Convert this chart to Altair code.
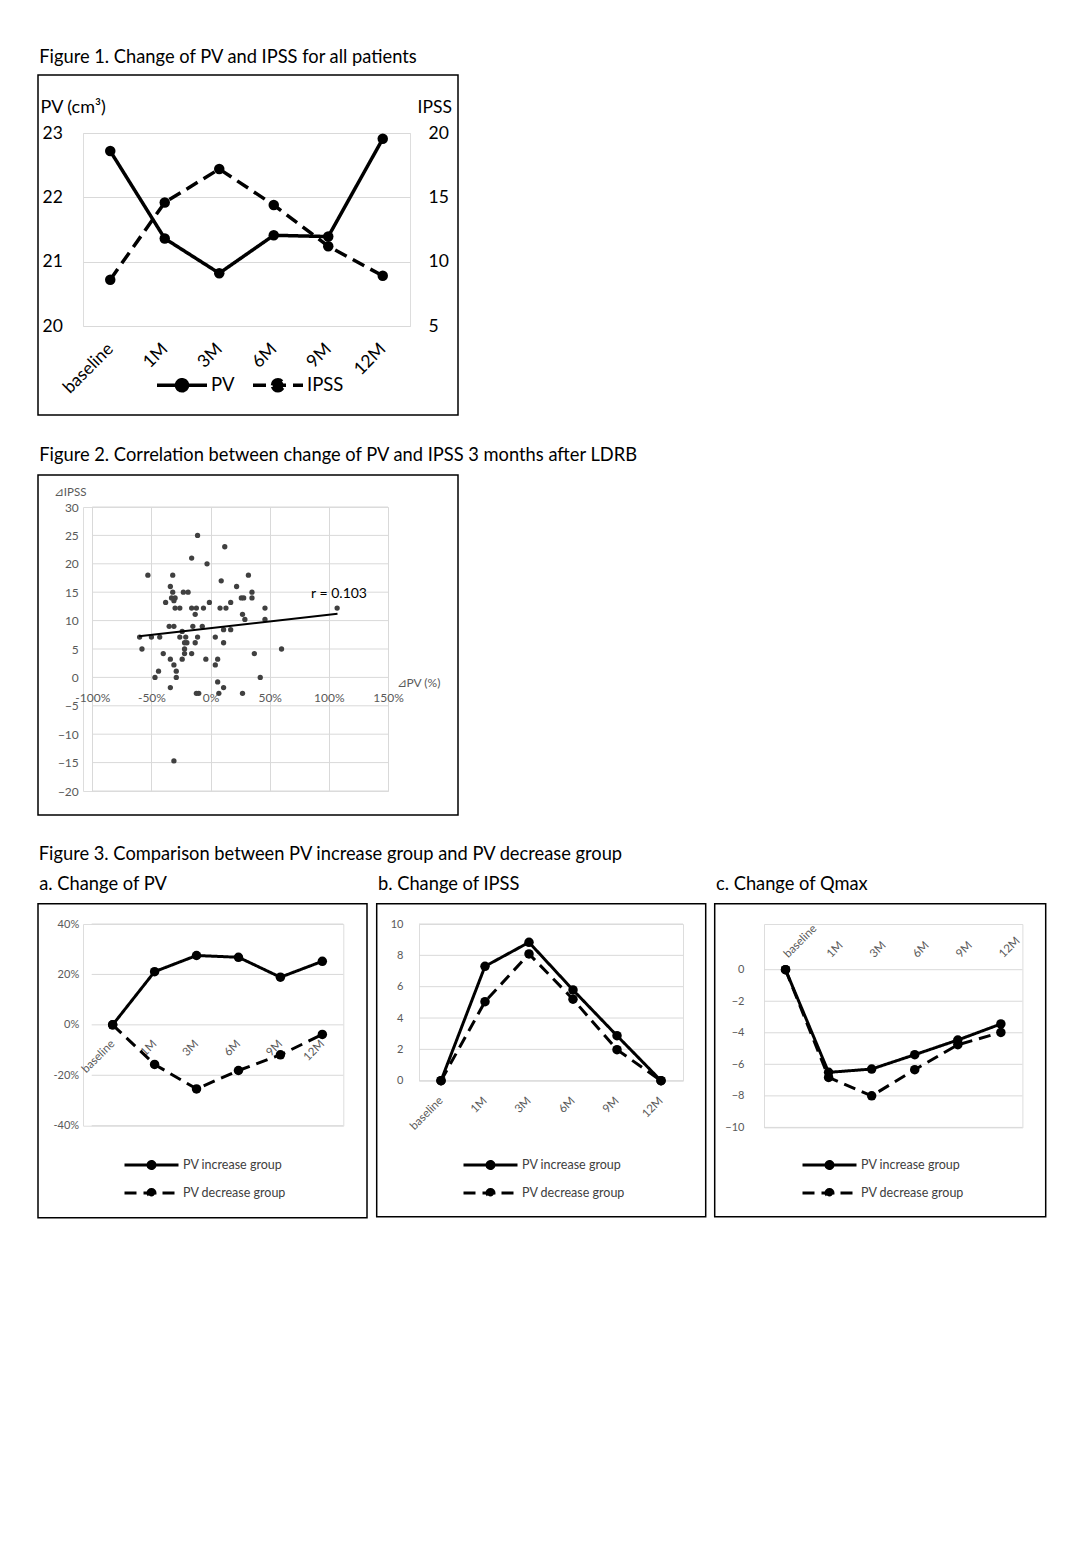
import altair as alt
import pandas as pd

FONT = "Lato"
GRID = "#d9d9d9"
LABEL_GRAY = "#595959"

# ---------------- data ----------------
months = ["baseline", "1M", "3M", "6M", "9M", "12M"]

# Figure 1
pv_all = [22.72, 21.36, 20.82, 21.41, 21.39, 22.91]
ipss_all = [8.6, 14.6, 17.2, 14.4, 11.2, 8.9]

# Figure 2 (change of PV in %, change of IPSS)
dpv = [-11, 12, -16, -3,
       -53, -32, 32,
       9,
       -34, 22,
       -32, -23, -19, 35,
       -33, -30, 26, 28, 35,
       -38, -31, -1, 17,
       -30, -26, -16, -12, -6, 8, 13, 46, 107,
       -13, 27,
       29, 46,
       -35, -31, -15, -7,
       -24, 11, 17,
       -60, -50, -43, -26, -21, -11, 4,
       -22, -20, -13, 11,
       -58, -22, 60,
       -40, -22, -16, 37,
       -34, -24, -4, 6,
       -31, 4,
       -44, -29,
       -47, -29, 42,
       6,
       -34, 11,
       -12, -10, 7, 27,
       -31]
dipss = [25, 23, 21, 20,
         18, 18, 18,
         17,
         16, 16,
         15, 15, 15, 15,
         14, 14, 14, 14, 14,
         13.2, 13.5, 13.2, 13.2,
         12.2, 12.2, 12.2, 12.2, 12.2, 12.2, 12.2, 12.2, 12.2,
         11.1, 11.1,
         10.2, 10.2,
         9, 9, 9, 9,
         8.1, 8.4, 8.4,
         7.1, 7.1, 7.1, 7.1, 7.1, 7.1, 7.1,
         6.1, 6.1, 6.1, 6.1,
         5, 5, 5,
         4.2, 4.2, 4.2, 4.2,
         3.2, 3.2, 3.2, 3.2,
         2.2, 2.2,
         1.1, 1.1,
         0, 0, 0,
         -0.8,
         -1.8, -1.8,
         -2.8, -2.8, -2.8, -2.8,
         -14.7]
trend_x = [-60.4, 107.3]
trend_y = [7.25, 11.2]
r_label = ["r = 0.103"]
r_x = [85]
r_y = [13.9]
fig2_x_ticks = [-100, -50, 0, 50, 100, 150]
fig2_y_ticks = [-20, -15, -10, -5, 0, 5, 10, 15, 20, 25, 30]

# Figure 3
groups = ["PV increase group", "PV decrease group"]
pv_inc = [0, 21.1, 27.5, 26.8, 18.9, 25.2]
pv_dec = [0, -15.7, -25.4, -18.1, -11.9, -3.8]
ipss_inc = [0, 7.3, 8.83, 5.79, 2.87, 0]
ipss_dec = [0, 5.04, 8.09, 5.2, 1.98, 0]
qmax_inc = [0, -6.51, -6.3, -5.39, -4.46, -3.44]
qmax_dec = [0, -6.83, -8.0, -6.34, -4.76, -3.98]


def circle_path(r, half=1):
    return (f"M-{half},0L{half},0M-{r},0A{r},{r},0,1,1,{r},0A{r},{r},0,1,1,-{r},0Z")


def frame(x1, x2, y1, y2):
    return alt.Chart(pd.DataFrame({"f": [0]})).mark_rect(
        fillOpacity=0, stroke="black", strokeWidth=1.5
    ).encode(x=alt.value(x1), x2=alt.value(x2), y=alt.value(y1), y2=alt.value(y2))


def title(text, offset):
    return alt.TitleParams(text, anchor="start", frame="bounds", fontSize=18.3,
                           fontWeight="normal", font=FONT, color="black",
                           baseline="alphabetic", offset=offset, dx=2)


# ---------------- Figure 1 ----------------
W1, H1 = 327, 193
df_pv = pd.DataFrame({"month": months, "value": pv_all, "series": "PV"})
df_ipss = pd.DataFrame({"month": months, "value": ipss_all, "series": "IPSS"})

x1 = alt.X("month:O", sort=months, scale=alt.Scale(type="point", padding=0.5),
           axis=alt.Axis(title=None, labelAngle=-45, labelFontSize=17.5, labelColor="black",
                         labelAlign="right", labelBaseline="middle", labelOverlap=False,
                         domain=False, ticks=False, grid=False, labelPadding=20))
dash1 = alt.Scale(domain=["PV", "IPSS"], range=[[1, 0], [13, 7]])
legend1 = alt.Legend(title=None, orient="none", legendX=72, legendY=225, direction="horizontal",
                     symbolType=circle_path(0.22), symbolSize=2500, symbolStrokeWidth=3.5,
                     symbolStrokeColor="black", symbolFillColor="black",
                     labelFontSize=18.5, labelColor="black", columnPadding=11,
                     labelOffset=2, padding=0)

y_pv = alt.Y("value:Q", scale=alt.Scale(domain=[20, 23], nice=False, zero=False),
             axis=alt.Axis(values=[20, 21, 22, 23], grid=True, gridColor=GRID, domain=False,
                           ticks=False, labelAlign="left", labelPadding=41, labelFontSize=17.5,
                           labelColor="black", labelOverlap=False, title="PV (cm³)",
                           titleAngle=0, titleAlign="left",
                           titleBaseline="alphabetic", titleX=-43, titleY=-21,
                           titleFontWeight="normal", titleFontSize=18, titleColor="black"))
y_ipss = alt.Y("value:Q", scale=alt.Scale(domain=[5, 20], nice=False, zero=False),
               axis=alt.Axis(orient="right", values=[5, 10, 15, 20], grid=False, domain=False,
                             ticks=False, labelAlign="left", labelPadding=18, labelFontSize=17.5,
                             labelColor="black", labelOverlap=False, title="IPSS", titleAngle=0,
                             titleAlign="left",
                             titleBaseline="alphabetic", titleX=7, titleY=-21,
                             titleFontWeight="normal", titleFontSize=17.5, titleColor="black"))

pv_line = alt.Chart(df_pv).mark_line(color="black", strokeWidth=3.5).encode(
    x=x1, y=y_pv, strokeDash=alt.StrokeDash("series:N", scale=dash1, legend=legend1))
pv_pts = alt.Chart(df_pv).mark_circle(size=110, color="black", opacity=1).encode(x=x1, y=y_pv)
ipss_line = alt.Chart(df_ipss).mark_line(color="black", strokeWidth=3.5).encode(
    x=x1, y=y_ipss, strokeDash=alt.StrokeDash("series:N", scale=dash1, legend=legend1))
ipss_pts = alt.Chart(df_ipss).mark_circle(size=110, color="black", opacity=1).encode(x=x1, y=y_ipss)

fig1 = alt.layer(
    frame(-45, 375, -58, 282),
    alt.layer(pv_line, pv_pts),
    alt.layer(ipss_line, ipss_pts),
).resolve_scale(y="independent").properties(
    width=W1, height=H1, title=title("Figure 1. Change of PV and IPSS for all patients", -7))

# ---------------- Figure 2 ----------------
# plot area starts 9.3 px left of the -100% line so that it lines up with Figure 1
W2, H2 = 305, 284
XMIN2 = -100 - 9.3 * 250 / 296
df2 = pd.DataFrame({"dpv": dpv, "dipss": dipss})
x2 = alt.X("dpv:Q", scale=alt.Scale(domain=[XMIN2, 150], nice=False),
           axis=alt.Axis(values=fig2_x_ticks, labelExpr="datum.value + '%'",
                         offset=-H2 * 20 / 50, grid=True, gridColor=GRID, domain=False,
                         ticks=False, labelFontSize=12, labelColor=LABEL_GRAY, labelPadding=15,
                         labelFlush=False, labelOverlap=False, title="⊿PV (%)", titleX=313,
                         titleY=9, titleAlign="left", titleBaseline="alphabetic",
                         titleFontSize=12, titleFontWeight="normal", titleColor=LABEL_GRAY))
y2 = alt.Y("dipss:Q", scale=alt.Scale(domain=[-20, 30], nice=False),
           axis=alt.Axis(values=fig2_y_ticks, grid=False, offset=-9.3,
                         domain=False, ticks=False, labelFontSize=12, labelColor=LABEL_GRAY,
                         labelPadding=14, labelFlush=False, labelOverlap=False, title="⊿IPSS",
                         titleAngle=0, titleAlign="left", titleBaseline="alphabetic",
                         titleX=-39, titleY=-12, titleFontSize=11.5, titleFontWeight="normal",
                         titleColor=LABEL_GRAY))

# horizontal grid lines between the first and last x tick (same axis definitions as the data)
df_grid2 = pd.DataFrame({"dipss": fig2_y_ticks,
                         "dpv": [fig2_x_ticks[0]] * len(fig2_y_ticks),
                         "dpv2": [fig2_x_ticks[-1]] * len(fig2_y_ticks)})
hgrid2 = alt.Chart(df_grid2).mark_rule(color=GRID, strokeWidth=1).encode(
    x=x2, x2="dpv2:Q", y=y2)
scatter = alt.Chart(df2).mark_circle(size=28, color="#404040", opacity=1).encode(x=x2, y=y2)
trend = alt.Chart(pd.DataFrame({"dpv": trend_x, "dipss": trend_y})).mark_line(
    color="black", strokeWidth=2).encode(x=x2, y=y2)
rtext = alt.Chart(pd.DataFrame({"dpv": r_x, "dipss": r_y, "t": r_label})).mark_text(
    align="left", baseline="alphabetic", fontSize=14, font=FONT, color="black").encode(
    x=x2, y=y2, text="t:N")

fig2 = alt.layer(frame(-45, 375, -32, 308), hgrid2, scatter, trend, rtext).properties(
    width=W2, height=H2,
    title=title("Figure 2. Correlation between change of PV and IPSS 3 months after LDRB", -5))


# ---------------- Figure 3 ----------------
def panel(inc, dec, ydomain, yvalues, pct, ylabpad, yoffset, xorient, xoffset, xlabpad,
          width, height, xrange, fr, legx, legy, ttl):
    df = pd.DataFrame({
        "month": months * 2,
        "value": list(inc) + list(dec),
        "group": [groups[0]] * 6 + [groups[1]] * 6,
    })
    xaxis = dict(title=None, labelAngle=-45, labelFontSize=11.5, labelColor=LABEL_GRAY,
                 domain=False, ticks=False, grid=False, labelPadding=xlabpad, orient=xorient,
                 labelOverlap=False)
    if xoffset:
        xaxis["offset"] = xoffset
    if xorient == "top":
        xaxis["labelAlign"] = "left"
    else:
        xaxis["labelAlign"] = "right"
    xaxis["labelBaseline"] = "middle"
    x = alt.X("month:O", sort=months,
              scale=alt.Scale(type="point", padding=0.5, range=list(xrange)),
              axis=alt.Axis(**xaxis))
    yaxis = dict(values=yvalues, grid=False, domain=False, ticks=False,
                 labelFontSize=11, labelColor=LABEL_GRAY, labelPadding=ylabpad,
                 labelFlush=False, labelOverlap=False, title=None)
    if yoffset:
        yaxis["offset"] = yoffset
    if pct:
        yaxis["labelExpr"] = "datum.value + '%'"
    y = alt.Y("value:Q", scale=alt.Scale(domain=ydomain, nice=False, zero=False),
              axis=alt.Axis(**yaxis))
    grid = alt.Chart(pd.DataFrame({"value": yvalues})).mark_rule(
        color=GRID, strokeWidth=1).encode(
        x=alt.value(xrange[0]), x2=alt.value(xrange[1]), y=y)
    # symbol drawn twice as wide as its layout box (path spans -2..2 units)
    leg = alt.Legend(title=None, orient="none", legendX=legx + 13.5, legendY=legy,
                     direction="vertical", symbolType=circle_path(0.26, 2), symbolSize=729,
                     symbolStrokeWidth=3, symbolStrokeColor="black", symbolFillColor="black",
                     labelFontSize=12.5, labelColor="#404040", labelOffset=16.5, rowPadding=3,
                     padding=0)
    dash = alt.Scale(domain=groups, range=[[1, 0], [12, 7]])
    line = alt.Chart(df).mark_line(color="black", strokeWidth=3).encode(
        x=x, y=y, strokeDash=alt.StrokeDash("group:N", scale=dash, legend=leg))
    pts = alt.Chart(df).mark_circle(size=90, color="black", opacity=1).encode(x=x, y=y)
    return alt.layer(frame(*fr), grid, line, pts).properties(
        width=width, height=height, title=title(ttl, -5))


# common plot top for the three panels; panel a starts at the same x as figures 1 and 2
pa = panel(pv_inc, pv_dec, [-40, 40], [-40, -20, 0, 20, 40], True, 13, -8.7, "bottom",
           -201.7 / 2, 17, 260.3, 201.7, (8.7, 260.3), (-45, 284, -20.3, 293.7),
           40, 226, "a. Change of PV")
pb = panel(ipss_inc, ipss_dec, [0, 10], [0, 2, 4, 6, 8, 10], False, 16, None, "bottom",
           None, 18, 264, 156.7, (0, 264), (-42.3, 286.7, -20.3, 292.7),
           43, 226, "b. Change of IPSS")
pc = panel(qmax_inc, qmax_dec, [-10, 10 * 45.7 / 157.7], [-10, -8, -6, -4, -2, 0], False, 20,
           None, "top", -45.7, 14, 258.4, 203.4, (0, 258.4), (-49.3, 281.7, -20.3, 292.7),
           37, 226, "c. Change of Qmax")

fig3 = alt.hconcat(pa, pb, pc, spacing=6).resolve_scale(
    strokeDash="independent").resolve_legend(strokeDash="independent").properties(
    title=title("Figure 3. Comparison between PV increase group and PV decrease group", -4.5))

chart = alt.vconcat(fig1, fig2, fig3, spacing=28).resolve_scale(
    strokeDash="independent").resolve_legend(strokeDash="independent").properties(
    padding={"left": 28, "top": 39, "right": 5, "bottom": 5},
    background="white",
).configure_view(stroke=None).configure(font=FONT).configure_axis(
    labelFont=FONT, titleFont=FONT).configure_legend(labelFont=FONT)

chart.save("out.html", embed_options={"renderer": "svg", "actions": False})
